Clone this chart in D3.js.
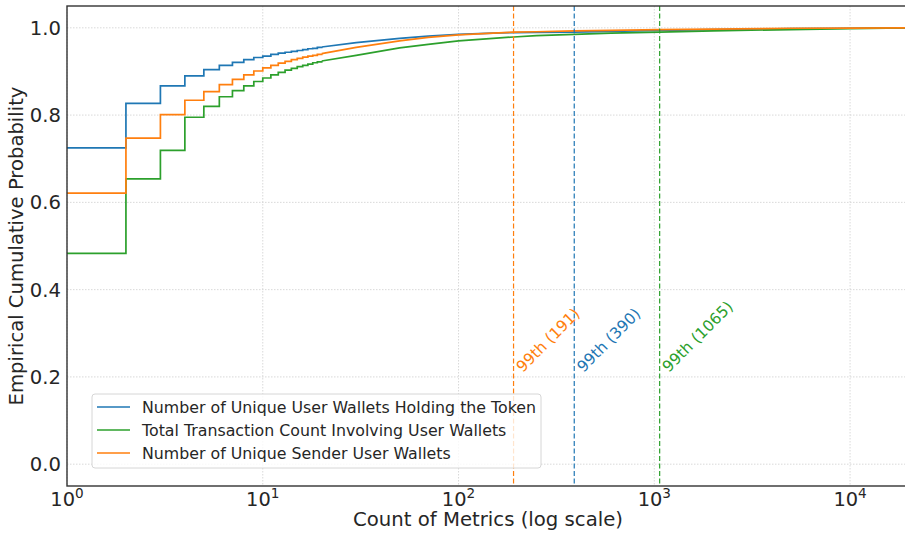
<!DOCTYPE html>
<html>
<head>
<meta charset="utf-8">
<script src="https://cdn.jsdelivr.net/npm/d3@7"></script>
<style>
  html, body { margin: 0; padding: 0; background: #fff; }
  svg { display: block; font-family: "DejaVu Sans", sans-serif; }
</style>
</head>
<body>
<svg id="chart" width="905" height="535"></svg>
<script>
// Empirical CDF values at each integer count 1..20 (step region)
const stepCounts = [1, 2, 3, 4, 5, 6, 7, 8, 9, 10, 11, 12, 13, 14, 15, 16, 17, 18, 19, 20];
const holdersStep = [0.725, 0.827, 0.867, 0.890, 0.904, 0.914, 0.921, 0.927, 0.932, 0.935, 0.939, 0.942, 0.944, 0.946, 0.948, 0.950, 0.952, 0.953, 0.955, 0.956];
const txStep      = [0.483, 0.654, 0.719, 0.795, 0.820, 0.842, 0.856, 0.867, 0.877, 0.885, 0.892, 0.898, 0.903, 0.907, 0.911, 0.914, 0.917, 0.920, 0.922, 0.924];
const sendersStep = [0.621, 0.747, 0.801, 0.834, 0.854, 0.870, 0.882, 0.892, 0.901, 0.908, 0.914, 0.919, 0.923, 0.927, 0.930, 0.933, 0.935, 0.937, 0.939, 0.941];

// Tail of the distributions (steps become too fine to see)
const tailCounts   = [20, 30, 50, 70, 100, 150, 191, 250, 390, 600, 1065, 2000, 5000, 10000, 20000];
const holdersTail  = [0.956, 0.966, 0.976, 0.981, 0.985, 0.988, 0.989, 0.9895, 0.990, 0.992, 0.994, 0.996, 0.998, 0.999, 1.0];
const txTail       = [0.924, 0.937, 0.954, 0.962, 0.970, 0.976, 0.979, 0.982, 0.985, 0.988, 0.990, 0.993, 0.996, 0.998, 1.0];
const sendersTail  = [0.941, 0.955, 0.970, 0.978, 0.984, 0.988, 0.990, 0.991, 0.993, 0.994, 0.996, 0.997, 0.999, 0.9995, 1.0];

const seriesNames  = ["Number of Unique User Wallets Holding the Token", "Total Transaction Count Involving User Wallets", "Number of Unique Sender User Wallets"];
const seriesColors = ["#1f77b4", "#2ca02c", "#ff7f0e"];
const p99Values    = [390, 1065, 191];

const yTicks = [0, 0.2, 0.4, 0.6, 0.8, 1.0];
const xTicks = [1, 10, 100, 1000, 10000];

const series = [
  { name: seriesNames[0], color: seriesColors[0], step: holdersStep, tail: holdersTail, p99: p99Values[0] },
  { name: seriesNames[1], color: seriesColors[1], step: txStep,      tail: txTail,      p99: p99Values[1] },
  { name: seriesNames[2], color: seriesColors[2], step: sendersStep, tail: sendersTail, p99: p99Values[2] }
];

const svg = d3.select("#chart");
const plotL = 67, plotT = 6, plotB = 486, plotR = 909;

const x = d3.scaleLog().domain([1, 20000]).range([plotL, plotR]);
const y = d3.scaleLinear().domain([-0.05, 1.05]).range([plotB, plotT]);

// grid
const grid = svg.append("g");
grid.selectAll("line.gx").data(xTicks).join("line")
  .attr("x1", d => x(d)).attr("x2", d => x(d))
  .attr("y1", plotT).attr("y2", plotB)
  .attr("stroke", "#cfcfcf").attr("stroke-width", 0.8).attr("stroke-dasharray", "1.5,1.5");
grid.selectAll("line.gy").data(yTicks).join("line")
  .attr("x1", plotL).attr("x2", plotR)
  .attr("y1", d => y(d)).attr("y2", d => y(d))
  .attr("stroke", "#cfcfcf").attr("stroke-width", 0.8).attr("stroke-dasharray", "1.5,1.5");

// curves
const stepLine = d3.line().curve(d3.curveStepAfter).x(d => x(d[0])).y(d => y(d[1]));
const tailLine = d3.line().x(d => x(d[0])).y(d => y(d[1]));
const curves = svg.append("g");
series.forEach(s => {
  curves.append("path")
    .attr("d", stepLine(stepCounts.map((c, i) => [c, s.step[i]])))
    .attr("fill", "none").attr("stroke", s.color).attr("stroke-width", 1.7);
  curves.append("path")
    .attr("d", tailLine(tailCounts.map((c, i) => [c, s.tail[i]])))
    .attr("fill", "none").attr("stroke", s.color).attr("stroke-width", 1.7);
});

// 99th percentile markers
const marks = svg.append("g");
series.forEach(s => {
  marks.append("line")
    .attr("x1", x(s.p99)).attr("x2", x(s.p99))
    .attr("y1", plotT).attr("y2", plotB)
    .attr("stroke", s.color).attr("stroke-width", 1.2).attr("stroke-dasharray", "5,2.5");
  const tx = x(s.p99 * 1.05) + 5, ty = y(0.2) - 4;
  marks.append("text")
    .attr("transform", `translate(${tx},${ty}) rotate(-45)`)
    .attr("fill", s.color).attr("font-size", 15.5)
    .text(`99th (${s.p99})`);
});

// spines
svg.append("rect")
  .attr("x", plotL).attr("y", plotT).attr("width", plotR - plotL).attr("height", plotB - plotT)
  .attr("fill", "none").attr("stroke", "#333").attr("stroke-width", 1.4);

// y tick labels
svg.append("g").selectAll("text").data(yTicks).join("text")
  .attr("x", plotL - 6).attr("y", d => y(d)).attr("dy", "0.36em")
  .attr("text-anchor", "end").attr("font-size", 19.6).attr("fill", "#262626")
  .text(d => d3.format(".1f")(d));

// x tick labels with superscript exponent
const xt = svg.append("g").selectAll("text").data(xTicks).join("text")
  .attr("x", d => x(d)).attr("y", 505.5)
  .attr("text-anchor", "middle").attr("font-size", 19.4).attr("fill", "#262626");
xt.append("tspan").text("10");
xt.append("tspan").attr("font-size", 13.6).attr("dy", -8).text(d => Math.round(Math.log10(d)));

// axis labels
svg.append("text")
  .attr("x", (plotL + plotR) / 2).attr("y", 526)
  .attr("text-anchor", "middle").attr("font-size", 19.7).attr("fill", "#262626")
  .text("Count of Metrics (log scale)");
svg.append("text")
  .attr("transform", `translate(23,${(plotT + plotB) / 2}) rotate(-90)`)
  .attr("text-anchor", "middle").attr("font-size", 19.6).attr("fill", "#262626")
  .text("Empirical Cumulative Probability");

// legend
const lg = svg.append("g");
lg.append("rect")
  .attr("x", 92).attr("y", 394).attr("width", 449).attr("height", 74).attr("rx", 3)
  .attr("fill", "#fff").attr("fill-opacity", 0.8).attr("stroke", "#d6d6d6").attr("stroke-width", 1);
series.forEach((s, i) => {
  const ly = 407 + i * 23;
  lg.append("line").attr("x1", 97).attr("x2", 130).attr("y1", ly).attr("y2", ly)
    .attr("stroke", s.color).attr("stroke-width", 1.6);
  lg.append("text").attr("x", 142).attr("y", ly).attr("dy", "0.36em")
    .attr("font-size", 15.8).attr("fill", "#262626").text(s.name);
});
</script>
</body>
</html>
